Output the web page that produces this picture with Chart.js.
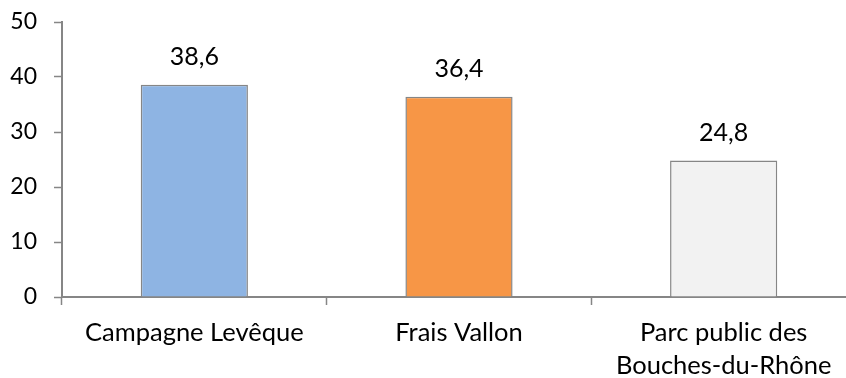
<!DOCTYPE html>
<html>
<head>
<meta charset="utf-8">
<script src="https://cdn.jsdelivr.net/npm/chart.js@4/dist/chart.umd.min.js"></script>
<style>
  html, body { margin: 0; padding: 0; background: #fff; overflow: hidden; }
  #wrap { width: 856px; height: 378px; }
</style>
</head>
<body>
<div id="wrap"><canvas id="c" width="856" height="378"></canvas></div>
<script>
// Categories and values
const categories = ['Campagne Levêque', 'Frais Vallon', ['Parc public des', 'Bouches-du-Rhône']];
const values = [38.6, 36.4, 24.8];
const barColors = ['#8EB4E3', '#F79646', '#F2F2F2'];
const yTicks = [0, 10, 20, 30, 40, 50];

const axisGray = '#868686';
const fontFamily = 'Lato, "Open Sans", sans-serif';

// Writes each bar's value above it, with a decimal comma
const valueLabels = {
  id: 'valueLabels',
  afterDatasetsDraw(chart) {
    const ctx = chart.ctx;
    const meta = chart.getDatasetMeta(0);
    ctx.save();
    ctx.font = '25px ' + fontFamily;
    ctx.fillStyle = '#000';
    ctx.textAlign = 'center';
    ctx.textBaseline = 'middle';
    meta.data.forEach((bar, i) => {
      const txt = values[i].toFixed(1).replace('.', ',');
      ctx.fillText(txt, bar.x, bar.y - 28);
    });
    ctx.restore();
  }
};

new Chart(document.getElementById('c'), {
  type: 'bar',
  data: {
    labels: categories,
    datasets: [{
      data: values,
      backgroundColor: barColors,
      borderColor: axisGray,
      borderWidth: 1.5,
      borderSkipped: 'bottom',
      categoryPercentage: 1,
      barPercentage: 0.405
    }]
  },
  options: {
    responsive: false,
    animation: false,
    devicePixelRatio: 1,
    layout: { padding: { top: 22, left: 0, right: 0, bottom: 0 } },
    plugins: { legend: { display: false }, tooltip: { enabled: false } },
    scales: {
      x: {
        offset: true,
        grid: {
          offset: true,
          drawOnChartArea: false,
          drawTicks: true,
          tickLength: 8,
          tickColor: axisGray,
          tickWidth: 1.5
        },
        border: { display: true, color: axisGray, width: 2 },
        ticks: {
          color: '#000',
          font: { family: fontFamily, size: 25.5, lineHeight: '33px' },
          padding: 11,
          maxRotation: 0,
          autoSkip: false
        },
        afterFit(scale) {
          scale.height = 81;
          scale.paddingLeft = 0;
          scale.paddingRight = 0;
        }
      },
      y: {
        min: 0,
        max: 50,
        afterBuildTicks(scale) { scale.ticks = yTicks.map(v => ({ value: v })); },
        grid: {
          drawOnChartArea: false,
          drawTicks: true,
          tickLength: 8,
          tickColor: axisGray,
          tickWidth: 1.5
        },
        border: { display: true, color: axisGray, width: 2 },
        ticks: {
          color: '#000',
          font: { family: fontFamily, size: 23 },
          padding: 17
        },
        afterFit(scale) {
          scale.width = 62;
          scale.paddingTop = 0;
          scale.paddingBottom = 0;
        }
      }
    }
  },
  plugins: [valueLabels]
});
</script>
</body>
</html>
